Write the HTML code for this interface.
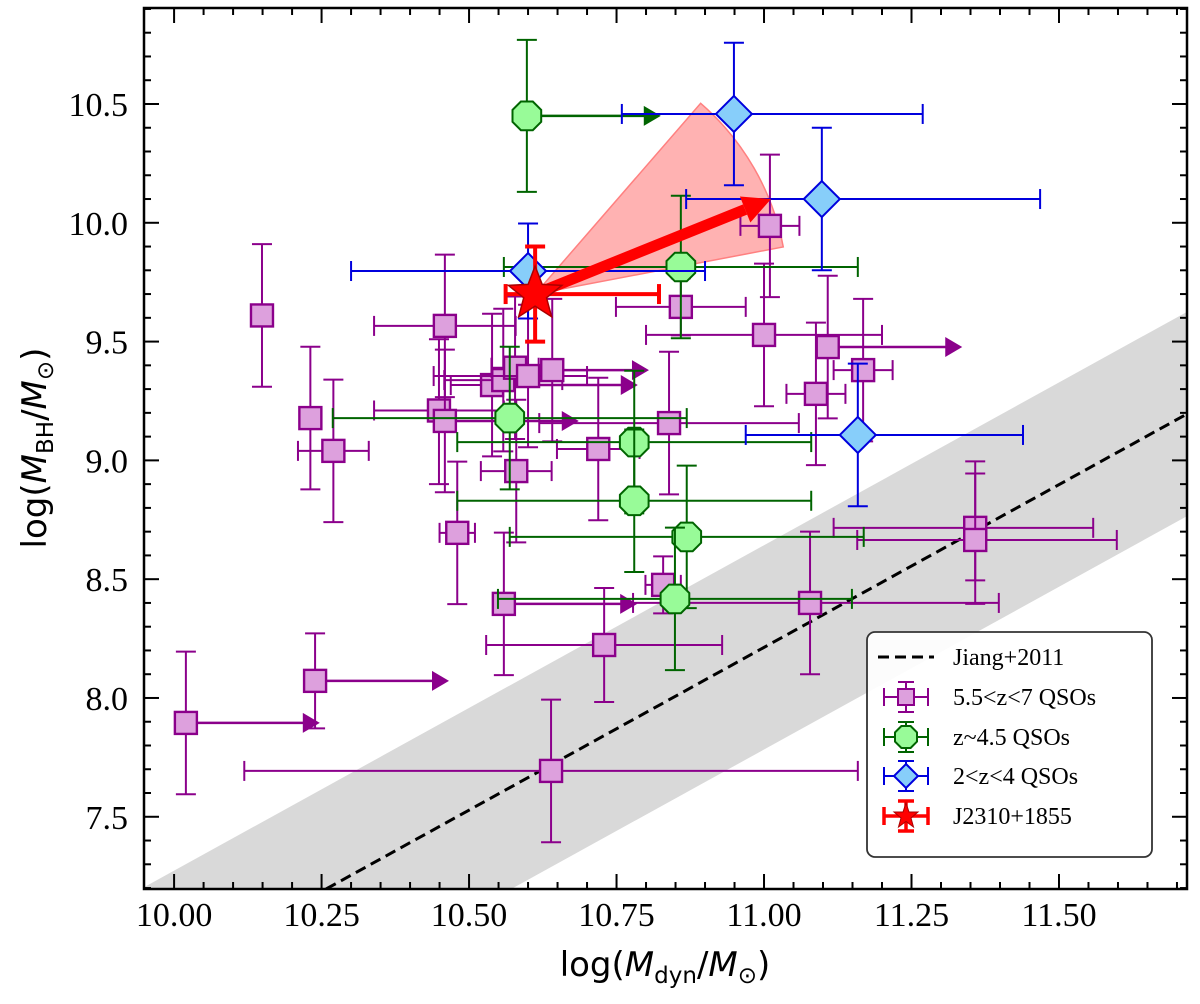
<!DOCTYPE html>
<html><head><meta charset="utf-8"><style>
html,body{margin:0;padding:0;background:#fff;width:1200px;height:1004px;overflow:hidden;}
#wrap{position:relative;width:1200px;height:1004px;overflow:hidden;}
svg{display:block;position:absolute;left:0;top:0;}
</style></head><body>
<div id="wrap">
<svg id="chart" xmlns="http://www.w3.org/2000/svg" width="1200" height="1004" viewBox="0 0 1200 1004"></svg>
<svg width="1200" height="1004" xmlns="http://www.w3.org/2000/svg">
  <text x="665" y="976" text-anchor="middle" font-family="'DejaVu Sans',sans-serif" font-size="34">log(<tspan font-style="italic">M</tspan><tspan font-size="23" dy="7">dyn</tspan><tspan dy="-7">/</tspan><tspan font-style="italic">M</tspan><tspan font-size="23" dy="7">⊙</tspan><tspan dy="-7">)</tspan></text>
  <text transform="translate(46,448) rotate(-90)" text-anchor="middle" font-family="'DejaVu Sans',sans-serif" font-size="34">log(<tspan font-style="italic">M</tspan><tspan font-size="23" dy="7">BH</tspan><tspan dy="-7">/</tspan><tspan font-style="italic">M</tspan><tspan font-size="23" dy="7">⊙</tspan><tspan dy="-7">)</tspan></text>
  <g font-family="'Liberation Serif',serif" font-size="24">
    <rect x="867" y="632" width="285" height="225" rx="8" fill="#fff" fill-opacity="0.9" stroke="#333" stroke-width="1.8"/>
    <g>
      <line x1="878" y1="657" x2="934" y2="657" stroke="#000" stroke-width="3" stroke-dasharray="11,6"/>
      <text x="953" y="665">Jiang+2011</text>
    </g>
    <g stroke="#8b008b" stroke-width="2">
      <line x1="884" y1="697" x2="928" y2="697"/><line x1="884" y1="688" x2="884" y2="706"/><line x1="928" y1="688" x2="928" y2="706"/>
      <line x1="906" y1="682" x2="906" y2="712"/><line x1="898" y1="682" x2="914" y2="682"/><line x1="898" y1="712" x2="914" y2="712"/>
      <rect x="898" y="689" width="16" height="16" fill="#dda0dd"/>
      <text x="953" y="705" stroke="none" fill="#000">5.5&lt;z&lt;7 QSOs</text>
    </g>
    <g stroke="#006400" stroke-width="2">
      <line x1="884" y1="737" x2="928" y2="737"/><line x1="884" y1="728" x2="884" y2="746"/><line x1="928" y1="728" x2="928" y2="746"/>
      <line x1="906" y1="722" x2="906" y2="752"/><line x1="898" y1="722" x2="914" y2="722"/><line x1="898" y1="752" x2="914" y2="752"/>
      <polygon points="917,741.6 910.6,748 901.4,748 895,741.6 895,732.4 901.4,726 910.6,726 917,732.4" fill="#98fb98"/>
      <text x="953" y="745" stroke="none" fill="#000">z~4.5 QSOs</text>
    </g>
    <g stroke="#0000dd" stroke-width="2">
      <line x1="884" y1="776" x2="928" y2="776"/><line x1="884" y1="767" x2="884" y2="785"/><line x1="928" y1="767" x2="928" y2="785"/>
      <line x1="906" y1="761" x2="906" y2="791"/><line x1="898" y1="761" x2="914" y2="761"/><line x1="898" y1="791" x2="914" y2="791"/>
      <polygon points="906,764 918,776 906,788 894,776" fill="#87cefa"/>
      <text x="953" y="784" stroke="none" fill="#000">2&lt;z&lt;4 QSOs</text>
    </g>
    <g stroke="#ff0000" stroke-width="3.5">
      <line x1="884" y1="816" x2="928" y2="816"/><line x1="884" y1="807" x2="884" y2="825"/><line x1="928" y1="807" x2="928" y2="825"/>
      <line x1="906" y1="801" x2="906" y2="831"/><line x1="898" y1="801" x2="914" y2="801"/><line x1="898" y1="831" x2="914" y2="831"/>
      <polygon points="906,803 909,812 918,812 911,818 913.5,827 906,821.5 898.5,827 901,818 894,812 903,812" fill="#ff0000" stroke="#aa0000" stroke-width="1"/>
      <text x="953" y="824" stroke="none" fill="#000">J2310+1855</text>
    </g>
  </g>
</svg>
</div>
<script>
// ---- data ----
const xTicks = [10.00, 10.25, 10.50, 10.75, 11.00, 11.25, 11.50];
const xTickLabels = ["10.00","10.25","10.50","10.75","11.00","11.25","11.50"];
const yTicks = [7.5, 8.0, 8.5, 9.0, 9.5, 10.0, 10.5];
const yTickLabels = ["7.5","8.0","8.5","9.0","9.5","10.0","10.5"];

// 5.5<z<7 QSOs
const pX   = [10.149,10.231,10.27,10.459,10.449,10.459,10.48,10.539,10.558,10.578,10.60,10.641,10.719,10.839,10.58,10.859,11.0,11.01,11.108,11.168,11.088,10.02,10.239,10.639,10.559,10.729,10.829,11.078,11.358,11.358];
const pY   = [9.61,9.178,9.04,9.566,9.21,9.166,8.695,9.317,9.338,9.39,9.355,9.38,9.048,9.157,8.955,9.646,9.528,9.987,9.477,9.38,9.28,7.895,8.072,7.693,8.396,8.223,8.476,8.40,8.716,8.665];
const pXm  = [0,0,0.06,0.12,0.11,0,0.03,0.07,0.10,0.04,0.16,0,0.07,0.22,0.06,0.11,0.20,0.05,0,0.05,0.05,0,0,0.52,0,0.20,0.03,0.30,0.24,0.20];
const pXp  = [0,0,0.06,0.12,0.11,0,0.03,0,0.10,0.04,0.10,0,0.07,0.22,0.06,0.11,0.20,0.05,0,0.05,0.05,0,0,0.52,0,0.20,0.03,0.32,0.20,0.24];
const pYm  = [0.30,0.30,0.30,0.30,0.31,0.30,0.30,0.30,0.30,0.30,0.30,0.30,0.30,0.30,0.30,0.12,0.30,0.30,0.30,0.30,0.30,0.30,0.20,0.30,0.30,0.24,0.12,0.30,0.32,0.17];
const pYp  = [0.30,0.30,0.30,0.30,0.30,0.30,0.30,0.30,0.30,0.30,0.30,0.30,0.30,0.30,0.30,0.12,0.30,0.30,0.30,0.30,0.30,0.30,0.20,0.30,0.30,0.24,0.12,0.30,0.28,0.28];
const pLim = [null,null,null,null,null,10.686,null,10.786,null,null,null,10.805,null,null,null,null,null,null,11.336,null,null,10.247,10.466,null,10.785,null,null,null,null,null];

// z~4.5 QSOs
const gX   = [10.598,10.859,10.569,10.78,10.78,10.869,10.849];
const gY   = [10.45,9.814,9.178,9.077,8.83,8.678,8.417];
const gXm  = [0,0.30,0.30,0.30,0.30,0.30,0.30];
const gXp  = [0,0.30,0.30,0.30,0.30,0.30,0.30];
const gYe  = [0.32,0.30,0.30,0.30,0.30,0.30,0.30];
const gLim = [10.825,null,null,null,null,null,null];

// 2<z<4 QSOs
const bX   = [10.949,11.098,11.159,10.60];
const bY   = [10.458,10.10,9.107,9.797];
const bXm  = [0.19,0.23,0.19,0.30];
const bXp  = [0.32,0.37,0.28,0.30];
const bYe  = [0.30,0.30,0.30,0.20];

// J2310+1855
const sX = [10.612], sY = [9.70], sXm = [0.05], sXp = [0.21], sYe = [0.20];
const arrowEnd = [11.012, 10.10];
const wedgeTop = [10.893, 10.504];
const wedgeBot = [11.032, 9.898];

// Jiang+2011 relation
const jiangSlope = 1.37, jiangX0 = 11.1, jiangY0 = 8.35, jiangScatter = 0.43;

// ---- scales ----
const L=144,R=1187,T=8,B=889;
const X0=9.949,X1=11.717,Y0=7.196,Y1=10.904;
const sx=v=>L+(v-X0)/(X1-X0)*(R-L);
const sy=v=>B-(v-Y0)/(Y1-Y0)*(B-T);

const NS="http://www.w3.org/2000/svg";
const svg=document.getElementById('chart');
function mk(tag,attrs,parent){const e=document.createElementNS(NS,tag);for(const k in attrs)e.setAttribute(k,attrs[k]);(parent||svg).appendChild(e);return e;}

const defs=mk('defs',{});
const cp=mk('clipPath',{id:'plotclip'},defs);
mk('rect',{x:L,y:T,width:R-L,height:B-T},cp);

const plot=mk('g',{'clip-path':'url(#plotclip)'});



const jl=x=>jiangY0+jiangSlope*(x-jiangX0);
const xAt=y=>jiangX0+(y-jiangY0)/jiangSlope;
{
  const ulY=Math.max(Y0,jl(X0)+jiangScatter);
  const lowStartX=Math.max(X0,xAt(Y0+jiangScatter));
  const pts=[[X0,ulY],[X1,jl(X1)+jiangScatter],[X1,jl(X1)-jiangScatter],[lowStartX,Y0],[X0,Y0]];
  const band=mk('polygon',{points:pts.map(p=>sx(p[0])+','+sy(p[1])).join(' '),fill:'#d9d9d9'},plot);
  
  
  const lx0=Math.max(X0,xAt(Y0));
  const jline=mk('line',{x1:sx(lx0),y1:sy(jl(lx0)),x2:sx(X1),y2:sy(jl(X1)),stroke:'#000','stroke-width':3,'stroke-dasharray':'11,6'},plot);
  
  
}

{
  const cx=sx(sX[0]),cy=sy(sY[0]);
  const tx=sx(wedgeTop[0]),ty=sy(wedgeTop[1]),bx=sx(wedgeBot[0]),by=sy(wedgeBot[1]);
  const r=(Math.hypot(tx-cx,ty-cy)+Math.hypot(bx-cx,by-cy))/2;
  const a1=Math.atan2(ty-cy,tx-cx),a2=Math.atan2(by-cy,bx-cx);
  const w=mk('path',{d:`M${cx},${cy} L${cx+r*Math.cos(a1)},${cy+r*Math.sin(a1)} A${r},${r} 0 0 1 ${cx+r*Math.cos(a2)},${cy+r*Math.sin(a2)} Z`,fill:'#ff7f7f','fill-opacity':0.6,stroke:'#ff8080','stroke-width':1.5},plot);
  
  
}

function errbar(g,x,y,xm,xp,ym,yp,col,lw,cap){
  const px=sx(x),py=sy(y);
  if(xm||xp){
    mk('line',{x1:sx(x-xm),y1:py,x2:sx(x+xp),y2:py,stroke:col,'stroke-width':lw},g);
    if(xm) mk('line',{x1:sx(x-xm),y1:py-cap,x2:sx(x-xm),y2:py+cap,stroke:col,'stroke-width':lw},g);
    if(xp) mk('line',{x1:sx(x+xp),y1:py-cap,x2:sx(x+xp),y2:py+cap,stroke:col,'stroke-width':lw},g);
  }
  mk('line',{x1:px,y1:sy(y+yp),x2:px,y2:sy(y-ym),stroke:col,'stroke-width':lw},g);
  mk('line',{x1:px-cap,y1:sy(y+yp),x2:px+cap,y2:sy(y+yp),stroke:col,'stroke-width':lw},g);
  mk('line',{x1:px-cap,y1:sy(y-ym),x2:px+cap,y2:sy(y-ym),stroke:col,'stroke-width':lw},g);
}
function limArrow(g,x,y,lim,col){
  const py=sy(y),tx=sx(lim);
  mk('line',{x1:sx(x),y1:py,x2:tx-10,y2:py,stroke:col,'stroke-width':2.5},g);
  mk('polygon',{points:`${tx},${py} ${tx-17},${py-10} ${tx-17},${py+10}`,fill:col},g);
}
function octagon(cx,cy,r){const p=[];for(let i=0;i<8;i++){const a=Math.PI/8+i*Math.PI/4;p.push((cx+r*Math.cos(a)).toFixed(1)+','+(cy+r*Math.sin(a)).toFixed(1));}return p.join(' ');}

const gp=mk('g',{},plot);


for(let i=0;i<pX.length;i++){
  const g=mk('g',{},gp);
  
  
  errbar(g,pX[i],pY[i],pXm[i],pXp[i],pYm[i],pYp[i],'#8b008b',2,10);
  if(pLim[i]!==null) limArrow(g,pX[i],pY[i],pLim[i],'#8b008b');
  mk('rect',{x:sx(pX[i])-11,y:sy(pY[i])-11,width:22,height:22,fill:'#dda0dd',stroke:'#8b008b','stroke-width':2.4},g);
}
const gg=mk('g',{},plot);


for(let i=0;i<gX.length;i++){
  const g=mk('g',{},gg);
  
  
  errbar(g,gX[i],gY[i],gXm[i],gXp[i],gYe[i],gYe[i],'#006400',2,10);
  if(gLim[i]!==null) limArrow(g,gX[i],gY[i],gLim[i],'#006400');
  mk('polygon',{points:octagon(sx(gX[i]),sy(gY[i]),15.5),fill:'#98fb98',stroke:'#006400','stroke-width':2},g);
}
const gb=mk('g',{},plot);


for(let i=0;i<bX.length;i++){
  const g=mk('g',{},gb);
  
  
  errbar(g,bX[i],bY[i],bXm[i],bXp[i],bYe[i],bYe[i],'#0000dd',2,10);
  const cx=sx(bX[i]),cy=sy(bY[i]);
  mk('polygon',{points:`${cx},${cy-18} ${cx+18},${cy} ${cx},${cy+18} ${cx-18},${cy}`,fill:'#87cefa',stroke:'#0000dd','stroke-width':2},g);
}
{
  const cx=sx(sX[0]),cy=sy(sY[0]),ex=sx(arrowEnd[0]),ey=sy(arrowEnd[1]);
  const a=Math.atan2(ey-cy,ex-cx),hl=28,hw=14;
  const bxp=ex-hl*Math.cos(a),byp=ey-hl*Math.sin(a);
  const ar=mk('g',{},plot);
  
  
  mk('line',{x1:cx,y1:cy,x2:bxp,y2:byp,stroke:'#ff0000','stroke-width':11},ar);
  mk('polygon',{points:`${ex},${ey} ${bxp-hw*Math.sin(a)},${byp+hw*Math.cos(a)} ${bxp+hw*Math.sin(a)},${byp-hw*Math.cos(a)}`,fill:'#ff0000'},ar);
  const sg=mk('g',{},plot);
  
  
  errbar(sg,sX[0],sY[0],sXm[0],sXp[0],sYe[0],sYe[0],'#ff0000',4,10);
  const pts=[];for(let i=0;i<10;i++){const r=i%2?12:28,an=-Math.PI/2+i*Math.PI/5;pts.push((cx+r*Math.cos(an)).toFixed(1)+','+(cy+r*Math.sin(an)).toFixed(1));}
  mk('polygon',{points:pts.join(' '),fill:'#ff0000',stroke:'#aa0000','stroke-width':1.5},sg);
}

const ax=mk('g',{});


mk('rect',{x:L,y:T,width:R-L,height:B-T,fill:'none',stroke:'#000','stroke-width':2.5},ax);
for(let v=10.0;v<=11.70001;v+=0.05){
  const vv=Math.round(v*100)/100,maj=Math.abs(vv*4-Math.round(vv*4))<1e-6,len=maj?15:7,x=sx(vv);
  mk('line',{x1:x,y1:B,x2:x,y2:B-len,stroke:'#000','stroke-width':2},ax);
  mk('line',{x1:x,y1:T,x2:x,y2:T+len,stroke:'#000','stroke-width':2},ax);
}
for(let v=7.2;v<=10.9001;v+=0.1){
  const vv=Math.round(v*10)/10,maj=Math.abs(vv*2-Math.round(vv*2))<1e-6,len=maj?15:7,y=sy(vv);
  mk('line',{x1:L,y1:y,x2:L+len,y2:y,stroke:'#000','stroke-width':2},ax);
  mk('line',{x1:R,y1:y,x2:R-len,y2:y,stroke:'#000','stroke-width':2},ax);
}
xTicks.forEach((v,i)=>{
  const t=mk('text',{x:sx(v),y:926,'text-anchor':'middle','font-family':'"Liberation Serif",serif','font-size':34,fill:'#000'},ax);
  t.textContent=xTickLabels[i];
  
  
});
yTicks.forEach((v,i)=>{
  const t=mk('text',{x:128,y:sy(v)+12,'text-anchor':'end','font-family':'"Liberation Serif",serif','font-size':34,fill:'#000'},ax);
  t.textContent=yTickLabels[i];
  
  
});
</script>
</body></html>
